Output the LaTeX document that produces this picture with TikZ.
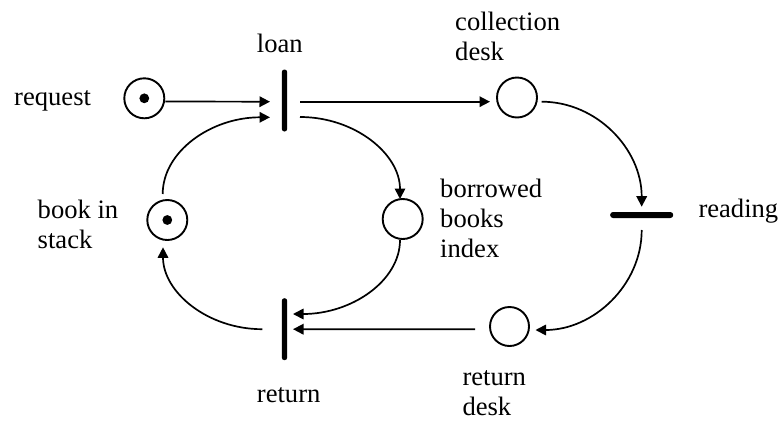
\documentclass[tikz,border=0pt]{standalone}
\usepackage{fontspec}
\setmainfont{Liberation Serif}
\usetikzlibrary{arrows.meta,calc}

\tikzset{
  place/.style={circle, draw, line width=1.9pt, minimum size=40pt, inner sep=0pt},
  marked/.style={path picture={\fill (path picture bounding box.center) circle (4.9pt);}},
  vbar/.style={rectangle, fill=black, rounded corners=2.6pt, minimum width=5.4pt, minimum height=62pt, inner sep=0pt},
  hbar/.style={rectangle, fill=black, rounded corners=2.8pt, minimum width=63pt, minimum height=6pt, inner sep=0pt},
  arc/.style={line width=1.7pt, -{Triangle[length=10.5pt,width=10.5pt]}},
  lbl/.style={anchor=base west, inner sep=0pt, font=\fontsize{26.6}{30}\selectfont},
}

\begin{document}
\begin{tikzpicture}[x=1pt, y=-1pt]
  \useasboundingbox (0,0) rectangle (782,421);

  % places
  \node[place, marked] (req)      at (144.3, 98.3) {};
  \node[place]         (coll)     at (517.0, 97.5) {};
  \node[place, marked] (stack)    at (167.3,220.0) {};
  \node[place]         (borrowed) at (402.7,219.0) {};
  \node[place, minimum size=39pt] (retdesk) at (509.5,326.5) {};

  % transitions
  \node[vbar] (loan)    at (284.5,100.5) {};
  \node[vbar] (ret)     at (284.5,329.2) {};
  \node[hbar] (reading) at (641.7,215.0) {};

  % labels
  \node[lbl] (tRequest)  at ( 14.0,105.0) {request};
  \node[lbl] (tLoan)     at (256.7, 52.3) {loan};
  \node[lbl] (tColl)     at (455.0, 30.0) {\begin{tabular}[t]{@{}l@{}}collection\\desk\end{tabular}};
  \node[lbl] (tBorrowed) at (440.0,197.0) {\begin{tabular}[t]{@{}l@{}}borrowed\\books\\index\end{tabular}};
  \node[lbl] (tReading)  at (698.3,217.3) {reading};
  \node[lbl] (tStack)    at ( 37.5,218.0) {\begin{tabular}[t]{@{}l@{}}book in\\stack\end{tabular}};
  \node[lbl] (tReturn)   at (256.7,402.3) {return};
  \node[lbl] (tRetDesk)  at (462.3,385.0) {\begin{tabular}[t]{@{}l@{}}return\\desk\end{tabular}};

  % arcs
  \draw[arc] ($(req.east)+(0,3.2)$) -- ($(loan)+(-14.5,1.2)$);
  \draw[arc] ($(stack)+(-4.6,-26)$) .. controls +(0,-42.4) and +(-59,0) .. ($(loan)+(-14.5,16.8)$);
  \draw[arc] ($(loan)+(15.5,1.2)$) -- ($(coll)+(-27,4.2)$);
  \draw[arc] ($(loan)+(15.5,16.5)$) .. controls +(55,0) and +(0,-45) .. ($(borrowed)+(-2.7,-20)$);
  \draw[arc] ($(coll)+(24.7,4.2)$) .. controls +(55,0) and +(0,-57.7) .. ($(reading)+(0,-8.3)$);
  \draw[arc] ($(reading)+(0,15)$) .. controls +(0,55) and +(58,0) .. ($(retdesk)+(26,3.5)$);
  \draw[arc] ($(retdesk)+(-34.5,2.8)$) -- ($(ret)+(8.5,0)$);
  \draw[arc] ($(borrowed)+(-2.7,21)$) .. controls +(0,40.7) and +(59,0) .. ($(ret)+(8.5,-15.2)$);
  \draw[arc] ($(ret)+(-22.2,0)$) .. controls +(-54.6,0) and +(0,45) .. ($(stack)+(-4.3,27.3)$);
\end{tikzpicture}
\end{document}
